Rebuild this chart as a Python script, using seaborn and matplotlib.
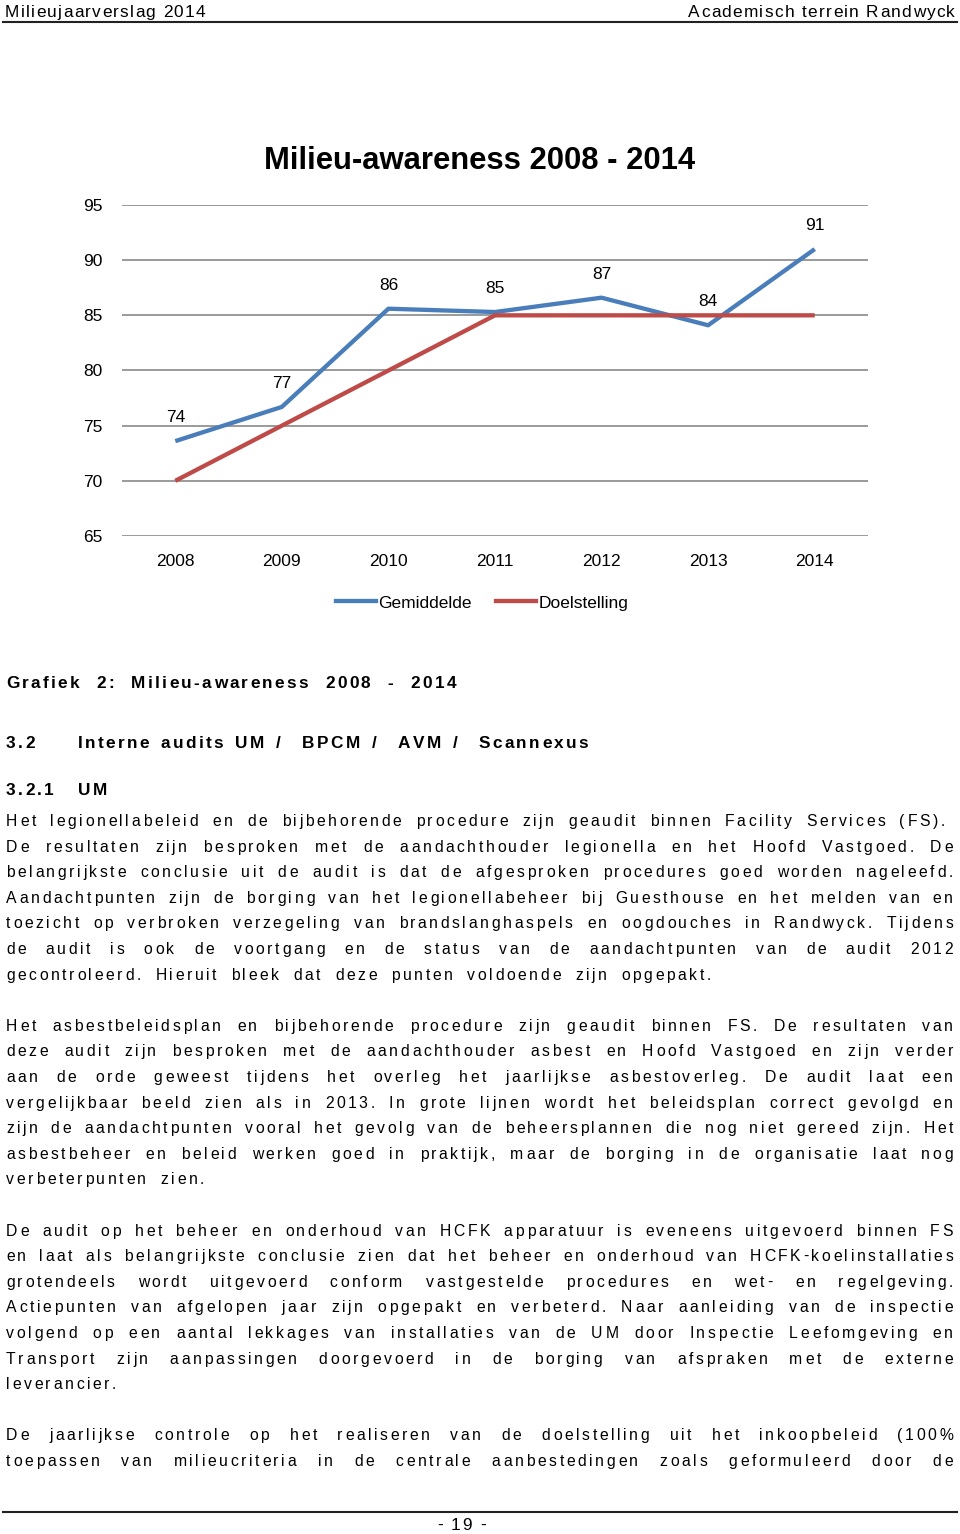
import numpy
import pandas
import seaborn as sns
import matplotlib.pyplot as plt
from matplotlib.font_manager import FontProperties, findfont, get_font
from matplotlib.lines import Line2D
try:
    from matplotlib.ft2font import LoadFlags
    NO_HINT = LoadFlags.NO_HINTING
except ImportError:
    from matplotlib.ft2font import LOAD_NO_HINTING as NO_HINT

#data grafiek
jaren = ["2008", "2009", "2010", "2011", "2012", "2013", "2014"]
gemiddelde = [73.6, 76.7, 85.6, 85.3, 86.6, 84.1, 91.0]
doelstelling = [70, 75, 80, 85, 85, 85, 85]
reeksen = ["Gemiddelde", "Doelstelling"]
kleuren = ["#4a7ebb", "#be4b48"]
y_ticks = [65, 70, 75, 80, 85, 90, 95]
titel = "Milieu-awareness 2008 - 2014"

#tekst pagina
kop_links = "Milieujaarverslag 2014"
kop_rechts = "Academisch terrein Randwyck"
bijschrift = "Grafiek 2: Milieu-awareness 2008 - 2014"
kop_32 = ["3.2", "Interne audits UM /  BPCM /  AVM /  Scannexus"]
kop_321 = ["3.2.1", "UM"]
paginanummer = "- 19 -"

alinea_1 = [
    "Het legionellabeleid en de bijbehorende procedure zijn geaudit binnen Facility Services (FS).",
    "De resultaten zijn besproken met de aandachthouder legionella en het Hoofd Vastgoed. De",
    "belangrijkste conclusie uit de audit is dat de afgesproken procedures goed worden nageleefd.",
    "Aandachtpunten zijn de borging van het legionellabeheer bij Guesthouse en het melden van en",
    "toezicht op verbroken verzegeling van brandslanghaspels en oogdouches in Randwyck. Tijdens",
    "de audit is ook de voortgang en de status van de aandachtpunten van de audit 2012",
    "gecontroleerd. Hieruit bleek dat deze punten voldoende zijn opgepakt.",
]
alinea_2 = [
    "Het asbestbeleidsplan en bijbehorende procedure zijn geaudit binnen FS. De resultaten van",
    "deze audit zijn besproken met de aandachthouder asbest en Hoofd Vastgoed en zijn verder",
    "aan de orde geweest tijdens het overleg het jaarlijkse asbestoverleg. De audit laat een",
    "vergelijkbaar beeld zien als in 2013. In grote lijnen wordt het beleidsplan correct gevolgd en",
    "zijn de aandachtpunten vooral het gevolg van de beheersplannen die nog niet gereed zijn. Het",
    "asbestbeheer en beleid werken goed in praktijk, maar de borging in de organisatie laat nog",
    "verbeterpunten zien.",
]
alinea_3 = [
    "De audit op het beheer en onderhoud van HCFK apparatuur is eveneens uitgevoerd binnen FS",
    "en laat als belangrijkste conclusie zien dat het beheer en onderhoud van HCFK-koelinstallaties",
    "grotendeels wordt uitgevoerd conform vastgestelde procedures en wet- en regelgeving.",
    "Actiepunten van afgelopen jaar zijn opgepakt en verbeterd. Naar aanleiding van de inspectie",
    "volgend op een aantal lekkages van installaties van de UM door Inspectie Leefomgeving en",
    "Transport zijn aanpassingen doorgevoerd in de borging van afspraken met de externe",
    "leverancier.",
]
alinea_4 = [
    "De jaarlijkse controle op het realiseren van de doelstelling uit het inkoopbeleid (100%",
    "toepassen van milieucriteria in de centrale aanbestedingen zoals geformuleerd door de",
]

#------------------------------
B = 960
H = 1534
lettertype = "Liberation Sans"
plt.rcParams["font.family"] = [lettertype, "DejaVu Sans"]

fig = plt.figure(figsize=(B / 100, H / 100), dpi=100)
fig.patch.set_facecolor("white")


#breedte per letter
def breedtes(tekst, prop):
    font = get_font(findfont(prop))
    font.set_size(prop.get_size_in_points(), 100)
    return [font.load_char(ord(c), flags=NO_HINT).linearHoriAdvance / 65536 for c in tekst]


#spatiering uit de breedte van een woord
def spatiering(woord, breedte, prop):
    return (breedte - sum(breedtes(woord, prop))) / (len(woord) - 1)


#regel tekst met letterspatiering
def regel(tekst, x0, basis, prop, x1=None, track=None, extra=0.0, kleur="black"):
    adv = breedtes(tekst, prop)
    n = len(tekst)
    if track is None:
        track = (x1 - x0 - sum(adv)) / (n - 1)
    elif x1 is not None:
        extra = (x1 - x0 - sum(adv) - track * (n - 1)) / tekst.count(" ")
    x = x0
    for c, a in zip(tekst, adv):
        if c != " ":
            fig.text((x + a / 2) / B, 1 - basis / H, c, ha="center", va="baseline",
                     fontproperties=prop, color=kleur)
        x += a + track + (extra if c == " " else 0)
    return extra


def lijn(y):
    fig.add_artist(Line2D([3 / B, 957 / B], [1 - y / H, 1 - y / H], color="#222222",
                          linewidth=1.5, transform=fig.transFigure))


#kop en voet
kop_prop = FontProperties(family=lettertype, size=12.4)
regel(kop_links, 5, 17, kop_prop, x1=205)
regel(kop_rechts, 688, 17, kop_prop, x1=955)
lijn(22)
lijn(1512)
regel(paginanummer, 437, 1530, kop_prop, x1=486)

#grafiek
df = pandas.DataFrame({
    "Jaar": jaren + jaren,
    "Waarde": gemiddelde + doelstelling,
    "Reeks": [reeksen[0]] * len(jaren) + [reeksen[1]] * len(jaren),
})

ax = fig.add_axes([122 / B, 1 - 536 / H, 746 / B, 331 / H])
sns.lineplot(data=df, x="Jaar", y="Waarde", hue="Reeks", palette=kleuren,
             linewidth=3.1, sort=False, legend=False, ax=ax)
for l in ax.lines:
    l.set_solid_joinstyle("round")
    l.set_solid_capstyle("butt")

ax.set_xlim(-0.5, len(jaren) - 0.5)
ax.set_ylim(y_ticks[0], y_ticks[-1])
ax.set_yticks(y_ticks)
ax.set_xlabel("")
ax.set_ylabel("")
ax.grid(False)
for t in y_ticks:
    ax.axhline(t, color="#9a9a9a", linewidth=1.4, zorder=0)
for s in ax.spines.values():
    s.set_visible(False)
ax.set_facecolor("none")
ax.tick_params(axis="both", length=0, labelsize=12.5, colors="black")
ax.tick_params(axis="y", pad=14)
ax.tick_params(axis="x", pad=13)

for i, v in enumerate(gemiddelde):
    ax.annotate(f"{v:.0f}", (jaren[i], v), xytext=(0, 17), textcoords="offset points",
                ha="center", va="center", fontsize=12.5, color="black")

fig.text(480 / B, 1 - 161 / H, titel, ha="center", va="center", fontsize=22.3,
         fontweight="bold", color="black")

handles = [Line2D([], [], color=k, linewidth=3.1) for k in kleuren]
fig.legend(handles, reeksen, loc="center", bbox_to_anchor=(482 / B, 1 - 603 / H),
           ncol=2, frameon=False, fontsize=12.5, handlelength=2.3, handletextpad=0.15,
           columnspacing=1.4)

#koppen
kop_vet = FontProperties(family=lettertype, size=12.4, weight="bold")
t_kop = spatiering("Grafiek", 73, kop_vet)
regel(bijschrift, 6, 688, kop_vet, x1=456, track=t_kop)
regel(kop_32[0], 6, 748, kop_vet, track=t_kop)
regel(kop_32[1], 78, 748, kop_vet, x1=588, track=t_kop)
regel(kop_321[0], 6, 795, kop_vet, track=t_kop)
regel(kop_321[1], 78, 795, kop_vet, track=t_kop)

#lopende tekst
tekst_prop = FontProperties(family=lettertype, size=11.3)
t_tekst = spatiering("legionellabeleid", 148, tekst_prop)

basis = 826
stap = 25.6
k = 0
woordruimte = 0.0
for alinea in [alinea_1, alinea_2, alinea_3, alinea_4]:
    for j, r in enumerate(alinea):
        y = basis + stap * k
        laatste = (j == len(alinea) - 1) and alinea is not alinea_4
        if alinea is alinea_1 and j == 0:
            woordruimte = regel(r, 6, y, tekst_prop, x1=945, track=t_tekst)
        elif laatste:
            regel(r, 6, y, tekst_prop, track=t_tekst, extra=woordruimte)
        else:
            regel(r, 6, y, tekst_prop, x1=953, track=t_tekst)
        k += 1
    k += 1

fig.savefig("out.png", dpi=100, facecolor="white")
